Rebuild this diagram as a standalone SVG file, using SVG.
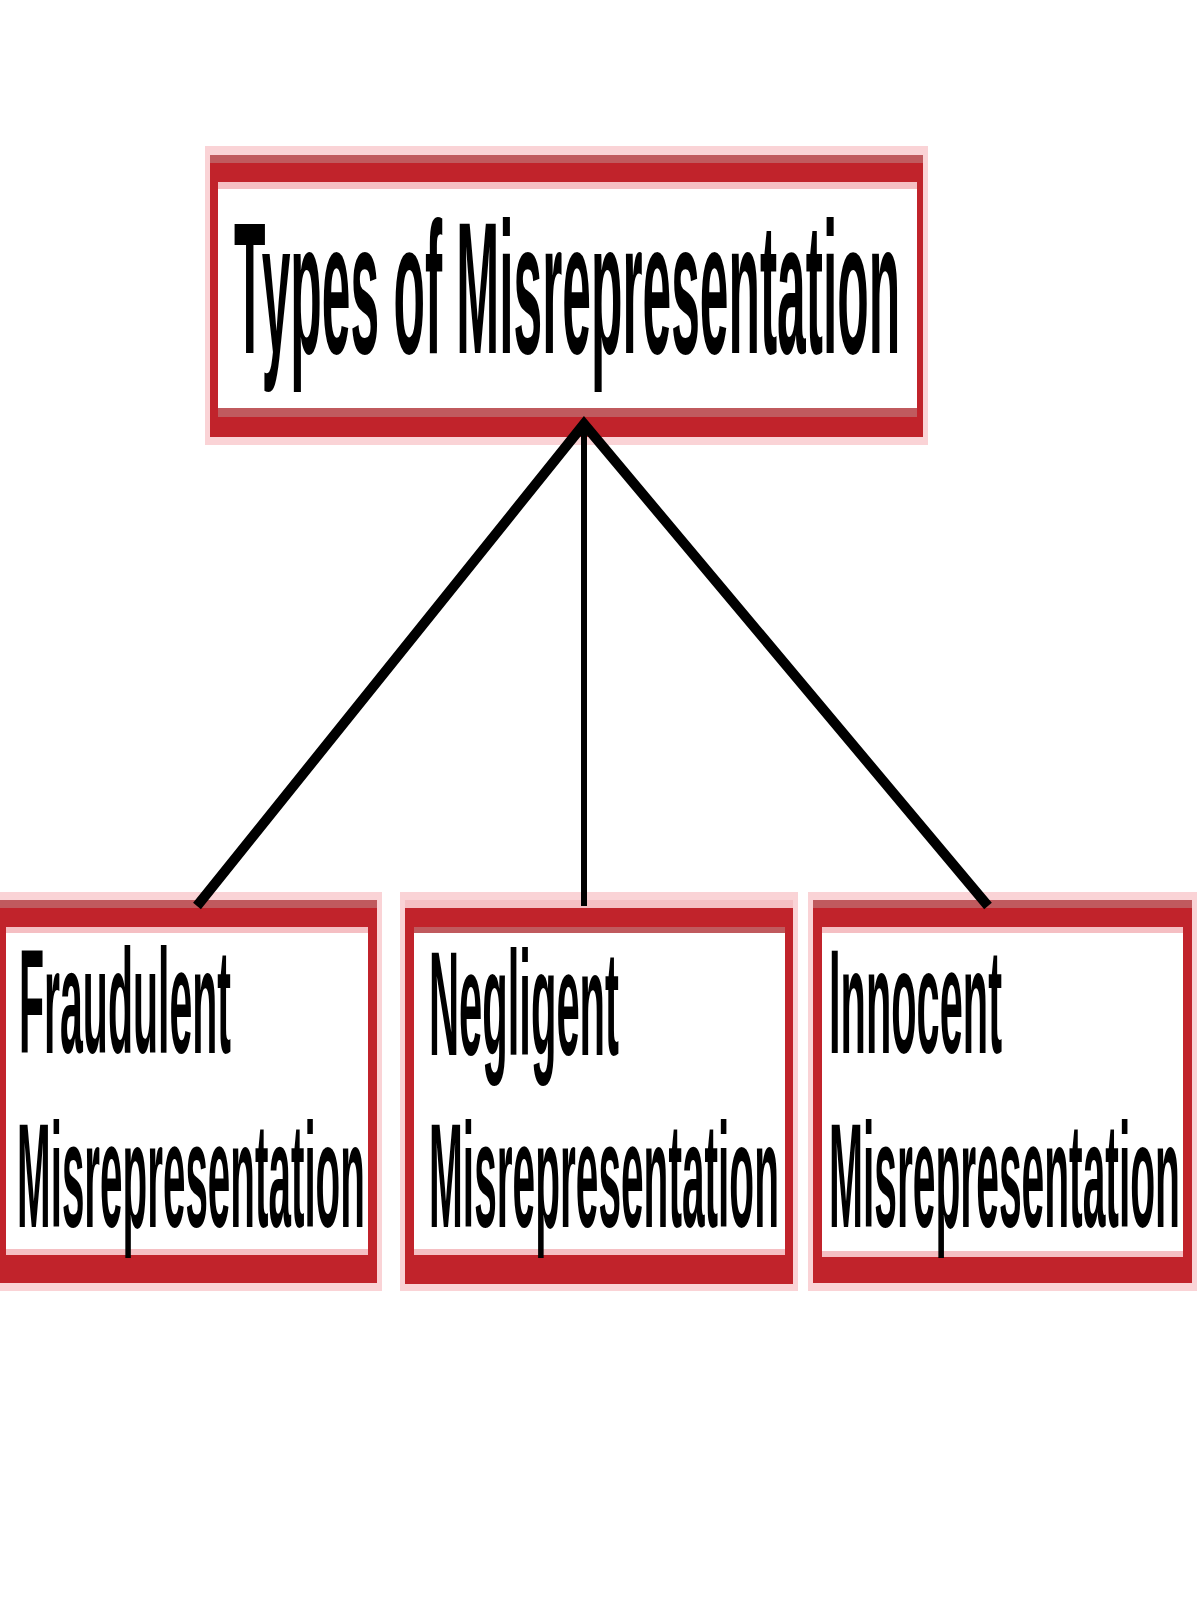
<svg xmlns="http://www.w3.org/2000/svg" width="1200" height="1600" viewBox="0 0 1200 1600">
<style>
.fr{fill:#fad3d6}
.rd{fill:#c1232b}
.mu{fill:#c05a5e}
.pk{fill:#f5bfc3}
.wh{fill:#ffffff}
.t{font-family:"Liberation Sans",Arial,sans-serif;font-weight:bold;fill:#000}
.c{fill:none;stroke:#000;stroke-linecap:butt;stroke-linejoin:miter}
</style>
<rect x="0" y="0" width="1200" height="1600" fill="#ffffff"/>
<g id="n-top">
<rect class="fr" x="205" y="146" width="723" height="299"/>
<rect class="rd" x="210" y="155" width="713" height="282"/>
<rect class="mu" x="210" y="155" width="713" height="8"/>
<rect class="wh" x="218" y="182" width="699" height="226"/>
<rect class="pk" x="218" y="182" width="699" height="7"/>
<rect class="mu" x="218" y="408" width="699" height="9"/>
<text class="t" font-size="188" transform="translate(234,353) scale(0.2741,1)">Types of Misrepresentation</text>
</g>
<g id="n-fraudulent">
<rect class="fr" x="0" y="892" width="382" height="399"/>
<rect class="rd" x="0" y="900" width="377" height="383"/>
<rect class="mu" x="0" y="900" width="377" height="8"/>
<rect class="wh" x="6" y="927" width="362" height="328"/>
<rect class="pk" x="6" y="927" width="362" height="6"/>
<rect class="pk" x="6" y="1249" width="362" height="6"/>
<text class="t" font-size="148" transform="translate(19,1053) scale(0.2772,1)">Fraudulent</text>
<text class="t" font-size="148" transform="translate(17,1227) scale(0.2730,1)">Misrepresentation</text>
</g>
<g id="n-negligent">
<rect class="fr" x="400" y="892" width="398" height="399"/>
<rect class="rd" x="405" y="900" width="388" height="384"/>
<rect class="pk" x="405" y="900" width="388" height="8"/>
<rect class="wh" x="414" y="927" width="371" height="328"/>
<rect class="mu" x="414" y="927" width="371" height="6"/>
<rect class="pk" x="414" y="1249" width="371" height="6"/>
<text class="t" font-size="148" transform="translate(429,1055) scale(0.2818,1)">Negligent</text>
<text class="t" font-size="148" transform="translate(429,1227) scale(0.2746,1)">Misrepresentation</text>
</g>
<g id="n-innocent">
<rect class="fr" x="808" y="892" width="389" height="399"/>
<rect class="rd" x="813" y="900" width="379" height="383"/>
<rect class="mu" x="813" y="900" width="379" height="8"/>
<rect class="wh" x="822" y="927" width="361" height="330"/>
<rect class="pk" x="822" y="927" width="361" height="6"/>
<rect class="pk" x="822" y="1251" width="361" height="6"/>
<text class="t" font-size="148" transform="translate(829,1053) scale(0.2805,1)">Innocent</text>
<text class="t" font-size="148" transform="translate(829,1227) scale(0.2754,1)">Misrepresentation</text>
</g>
<g id="connectors">
<path class="c" stroke-width="10" d="M197,906 L584,424 L988,906"/>
<line class="c" stroke-width="6" x1="584" y1="420" x2="584" y2="906"/>
</g>
</svg>
